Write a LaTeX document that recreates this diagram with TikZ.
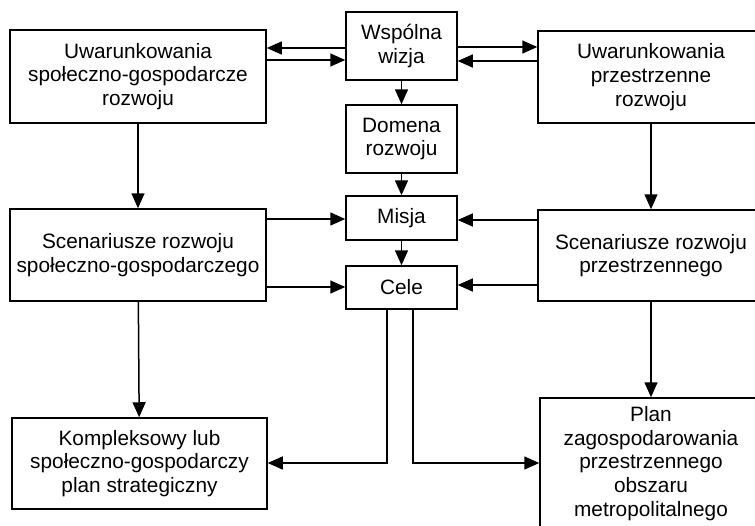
\documentclass[tikz,border=0pt]{standalone}
\usepackage{fontspec}
\setmainfont{Liberation Sans}
\usetikzlibrary{arrows.meta}
\begin{document}
\begin{tikzpicture}[x=1pt,y=-1pt,
  box/.style={draw, line width=1.5pt, inner sep=0pt, align=center,
    font=\fontsize{20.8}{23.7}\selectfont},
  arr/.style={line width=1.5pt, -{Triangle[length=15pt,width=13pt]}}]
\useasboundingbox[fill=white] (0,0) rectangle (755,525);
% left column
\node[box, minimum width=256pt, minimum height=93pt] (L1) at (138,76.5) {Uwarunkowania\\społeczno-gospodarcze\\rozwoju};
\node[box, minimum width=256pt, minimum height=92pt] (L2) at (138,255) {Scenariusze rozwoju\\społeczno-gospodarczego};
\node[box, minimum width=255pt, minimum height=91pt] (L3) at (139.5,463.5) {Kompleksowy lub\\społeczno-gospodarczy\\plan strategiczny};
% center column
\node[box, minimum width=111pt, minimum height=68pt] (W) at (401.5,46) {Wspólna\\wizja};
\node[box, minimum width=111pt, minimum height=68pt] (D) at (401.5,139) {Domena\\rozwoju};
\node[box, minimum width=111pt, minimum height=44pt] (M) at (401.5,218) {Misja};
\node[box, minimum width=111pt, minimum height=43pt] (C) at (401.5,287.5) {Cele};
% right column
\node[box, minimum width=226pt, minimum height=92pt] (R1) at (651,77) {Uwarunkowania\\przestrzenne\\rozwoju};
\node[box, minimum width=226pt, minimum height=91pt] (R2) at (651,255.5) {Scenariusze rozwoju\\przestrzennego};
\node[box, minimum width=222pt, minimum height=131pt] (R3) at (651,463.5) {Plan\\zagospodarowania\\przestrzennego\\obszaru\\metropolitalnego};
% top connections
\draw[arr] (W.west |- 0,48) -- (L1.east |- 0,48);
\draw[arr] (L1.east |- 0,60) -- (W.west |- 0,60);
\draw[arr] (W.east |- 0,47) -- (R1.west |- 0,47);
\draw[arr] (R1.west |- 0,61) -- (W.east |- 0,61);
% center chain
\draw[arr] (W) -- (D);
\draw[arr] (D) -- (M);
\draw[arr] (M) -- (C);
% verticals
\draw[arr] (L1) -- (L2);
\draw[arr] (L2) -- (L3);
\draw[arr] (R1) -- (R2);
\draw[arr] (R2.south) -- (R3.north);
% scenarios to mission/goals
\draw[arr] (L2.east |- 0,219) -- (M.west |- 0,219);
\draw[arr] (L2.east |- 0,287) -- (C.west |- 0,287);
\draw[arr] (R2.west |- 0,220) -- (M.east |- 0,220);
\draw[arr] (R2.west |- 0,285) -- (C.east |- 0,285);
% goals to plans
\coordinate (c1) at (387,463);
\coordinate (c2) at (413,463);
\draw[arr] (C.south -| c1) -- (c1) -- (L3.east |- c1);
\draw[arr] (C.south -| c2) -- (c2) -- (R3.west |- c2);
\end{tikzpicture}
\end{document}
